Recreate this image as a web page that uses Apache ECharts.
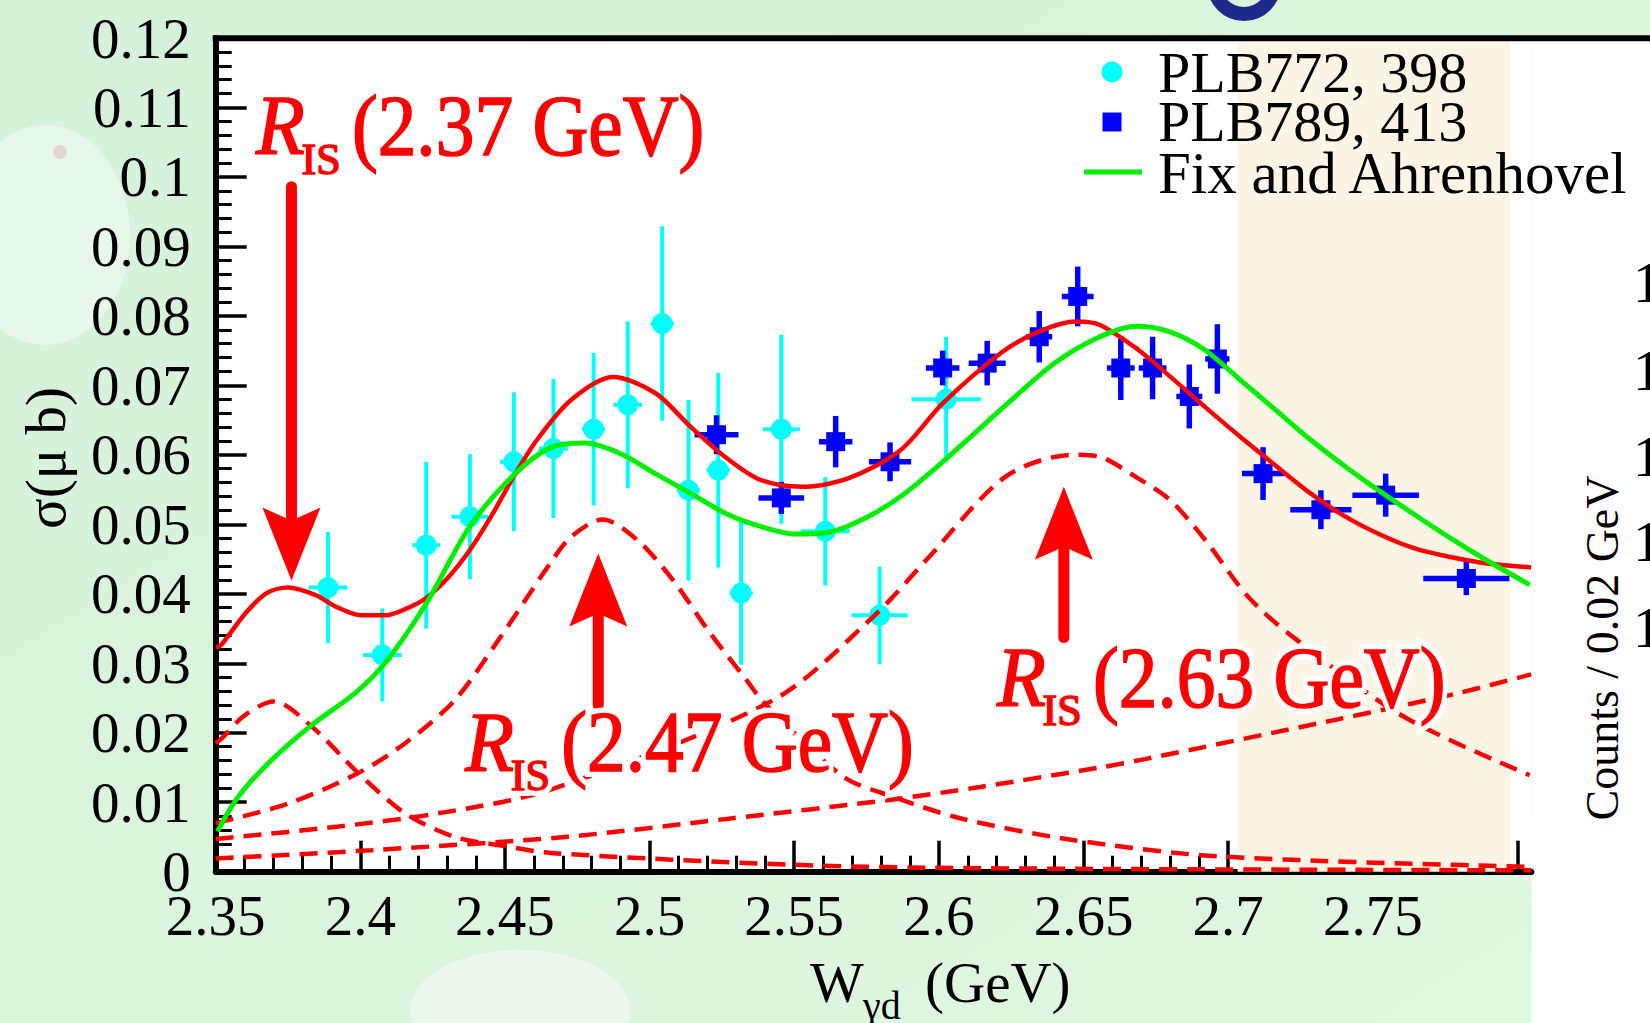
<!DOCTYPE html>
<html>
<head>
<meta charset="utf-8">
<title>W_γd cross section</title>
<script src="https://cdn.jsdelivr.net/npm/echarts@6/dist/echarts.min.js"></script>
<style>
  html, body { margin: 0; padding: 0; background: #d9f3dd; }
  #chart { width: 1650px; height: 1023px; }
</style>
</head>
<body>
<div id="chart"></div>
<script>
// ---- PLB772, 398 : W (GeV), sigma (ub), vertical error, bin half-width
const plb772W     = [2.3888, 2.4076, 2.4228, 2.4379, 2.4531, 2.4668, 2.4807, 2.4925, 2.5044, 2.5135, 2.5238, 2.5317, 2.5456, 2.5608, 2.5796, 2.6026];
const plb772Sigma = [0.0409, 0.0312, 0.0470, 0.0511, 0.0590, 0.0609, 0.0637, 0.0672, 0.0789, 0.0549, 0.0578, 0.0401, 0.0637, 0.0490, 0.0369, 0.0680];
const plb772Err   = [0.0080, 0.0067, 0.0120, 0.0090, 0.0100, 0.0100, 0.0110, 0.0120, 0.0140, 0.0130, 0.0140, 0.0103, 0.0136, 0.0078, 0.0070, 0.0090];
const plb772XErr  = [0.0067, 0.0067, 0.0048, 0.0064, 0.0048, 0.0050, 0.0040, 0.0050, 0.0040, 0.0040, 0.0040, 0.0040, 0.0064, 0.0085, 0.0097, 0.0120];

// ---- PLB789, 413
const plb789W     = [2.5232, 2.5456, 2.5644, 2.5832, 2.6014, 2.6168, 2.6348, 2.6481, 2.6630, 2.6740, 2.6867, 2.6964, 2.7122, 2.7322, 2.7546, 2.7825];
const plb789Sigma = [0.0629, 0.0538, 0.0619, 0.0590, 0.0725, 0.0732, 0.0770, 0.0828, 0.0725, 0.0725, 0.0684, 0.0738, 0.0573, 0.0521, 0.0542, 0.0422];
const plb789Err   = [0.0028, 0.0023, 0.0037, 0.0028, 0.0025, 0.0032, 0.0037, 0.0043, 0.0046, 0.0045, 0.0046, 0.0050, 0.0038, 0.0028, 0.0031, 0.0024];
const plb789XErr  = [0.0076, 0.0079, 0.0058, 0.0073, 0.0058, 0.0064, 0.0045, 0.0055, 0.0048, 0.0048, 0.0045, 0.0042, 0.0073, 0.0106, 0.0115, 0.0149];

// ---- total fit (solid red)
const fitTotal = [
  [2.3500, 0.0323], [2.3518, 0.0326], [2.3603, 0.0372], [2.3676, 0.0401], [2.3749, 0.0409], [2.3846, 0.0398],
  [2.3918, 0.0381], [2.4003, 0.0369], [2.4088, 0.0369], [2.4161, 0.0379], [2.4228, 0.0394], [2.4307, 0.0425],
  [2.4379, 0.0463], [2.4452, 0.0511], [2.4531, 0.0569], [2.4610, 0.0621], [2.4729, 0.0679], [2.4874, 0.0712],
  [2.5020, 0.0689], [2.5141, 0.0641], [2.5262, 0.0597], [2.5384, 0.0564], [2.5529, 0.0554], [2.5687, 0.0566],
  [2.5869, 0.0607], [2.6014, 0.0674], [2.6220, 0.0748], [2.6350, 0.0778], [2.6474, 0.0792], [2.6558, 0.0787],
  [2.6691, 0.0751], [2.6800, 0.0713], [2.6921, 0.0669], [2.7043, 0.0626], [2.7164, 0.0585], [2.7285, 0.0545],
  [2.7407, 0.0511], [2.7528, 0.0485], [2.7649, 0.0465], [2.7770, 0.0453], [2.7892, 0.0444], [2.8049, 0.0438]
];

// ---- Fix and Ahrenhovel (green)
const fixAhrenhovel = [
  [2.3506, 0.0058], [2.3578, 0.0108], [2.3694, 0.0161], [2.3832, 0.0211], [2.3982, 0.0257], [2.4085, 0.0300],
  [2.4228, 0.0386], [2.4379, 0.0497], [2.4531, 0.0571], [2.4656, 0.0610], [2.4777, 0.0617], [2.4899, 0.0602],
  [2.5020, 0.0573], [2.5141, 0.0545], [2.5262, 0.0516], [2.5384, 0.0497], [2.5505, 0.0486], [2.5626, 0.0489],
  [2.5747, 0.0509], [2.5869, 0.0540], [2.5990, 0.0581], [2.6111, 0.0626], [2.6233, 0.0672], [2.6404, 0.0733],
  [2.6558, 0.0770], [2.6684, 0.0785], [2.6800, 0.0777], [2.6921, 0.0751], [2.7043, 0.0708], [2.7164, 0.0665],
  [2.7285, 0.0622], [2.7407, 0.0583], [2.7528, 0.0547], [2.7649, 0.0513], [2.7770, 0.0480], [2.7892, 0.0449],
  [2.8044, 0.0413]
];

// ---- fit components (dashed red)
const compR237 = [
  [2.3500, 0.0185], [2.3521, 0.0192], [2.3600, 0.0225], [2.3700, 0.0245], [2.3832, 0.0209], [2.3993, 0.0142],
  [2.4155, 0.0084], [2.4327, 0.0050], [2.4500, 0.0037], [2.4657, 0.0027], [2.5497, 0.0010], [2.6143, 0.0005],
  [2.8050, 0.0002]
];
const compR247 = [
  [2.3500, 0.0070], [2.3751, 0.0098], [2.3993, 0.0142], [2.4155, 0.0185], [2.4327, 0.0247], [2.4477, 0.0333],
  [2.4657, 0.0444], [2.4729, 0.0482], [2.4838, 0.0507], [2.4959, 0.0477], [2.5081, 0.0420], [2.5202, 0.0348],
  [2.5335, 0.0276], [2.5399, 0.0242], [2.5670, 0.0137], [2.5842, 0.0108], [2.6074, 0.0077], [2.6458, 0.0046],
  [2.6970, 0.0022], [2.8044, 0.0007]
];
const compR263 = [
  [2.3500, 0.0047], [2.3924, 0.0065], [2.4270, 0.0084], [2.4657, 0.0118], [2.5428, 0.0247], [2.5774, 0.0367],
  [2.5958, 0.0449], [2.6233, 0.0569], [2.6466, 0.0600], [2.6558, 0.0597], [2.6679, 0.0569], [2.6800, 0.0535],
  [2.6921, 0.0478], [2.7072, 0.0395], [2.7225, 0.0338], [2.7609, 0.0223], [2.8044, 0.0139]
];
const compBroad = [
  [2.3500, 0.0019], [2.4039, 0.0031], [2.4708, 0.0050], [2.5267, 0.0076], [2.5842, 0.0104], [2.6143, 0.0122],
  [2.6558, 0.0150], [2.6713, 0.0162], [2.7353, 0.0217], [2.7625, 0.0241], [2.7807, 0.0258], [2.8049, 0.0284]
];

// ---- resonance markers: arrow W, arrow tail, arrow tip, label anchor (W, sigma)
const resMass     = ['2.37', '2.47', '2.63'];
const arrowW      = [2.3762, 2.4823, 2.6433];
const arrowTail   = [0.0986, 0.0240, 0.0337];
const arrowTip    = [0.0419, 0.0458, 0.0554];
const labelW      = [2.3639, 2.4363, 2.6202];
const labelSigma  = [0.1073, 0.0186, 0.0279];

// ---- axes
const xMin = 2.35, xMax = 2.805, xTickMax = 2.8, xStep = 0.05;
const yMin = 0, yMax = 0.12, yStep = 0.01;
const shadedBand = [2.7034, 2.7976];

const SERIF = 'Liberation Serif, Times New Roman, serif';
const RED = '#ff0000', CYAN = '#00ffff', BLUE = '#0000ff', GREEN = '#00ee00';

const chart = echarts.init(document.getElementById('chart'), null, { renderer: 'svg', width: 1650, height: 1023 });

function zip4(a, b, c, d) { return a.map((v, i) => [v, b[i], c[i], d[i]]); }

function errorBarItem(color, lw, marker, msize) {
  return function (params, api) {
    const w = api.value(0), s = api.value(1), ey = api.value(2), ex = api.value(3);
    const c = api.coord([w, s]);
    const t = api.coord([w, s + ey]), b = api.coord([w, s - ey]);
    const l = api.coord([w - ex, s]), r = api.coord([w + ex, s]);
    const st = { stroke: color, lineWidth: lw };
    const kids = [
      { type: 'line', shape: { x1: c[0], y1: t[1], x2: c[0], y2: b[1] }, style: st },
      { type: 'line', shape: { x1: l[0], y1: c[1], x2: r[0], y2: c[1] }, style: st }
    ];
    if (marker === 'circle') {
      kids.push({ type: 'circle', shape: { cx: c[0], cy: c[1], r: msize / 2 }, style: { fill: color } });
    } else {
      kids.push({ type: 'rect', shape: { x: c[0] - msize / 2, y: c[1] - msize / 2, width: msize, height: msize }, style: { fill: color } });
    }
    return { type: 'group', children: kids };
  };
}

function labelText(x, y, text, size, italic, sx, halo) {
  return {
    type: 'text', x: x, y: y, scaleX: sx, scaleY: 1,
    style: {
      text: text, fontFamily: SERIF, fontSize: size, fontStyle: italic ? 'italic' : 'normal',
      fill: halo ? '#ffffff' : RED,
      stroke: halo ? '#ffffff' : RED, lineWidth: halo ? 12 : 1.6,
      textAlign: 'left', verticalAlign: 'middle'
    }
  };
}

function resonanceItem(params, api) {
  const i = params.dataIndex;
  const w = api.value(0);
  const tail = api.coord([w, api.value(1)]);
  const tip = api.coord([w, api.value(2)]);
  const dir = tip[1] > tail[1] ? 1 : -1;
  const headL = 73, headW = 58, notch = 13;
  const baseY = tip[1] - dir * headL;
  const neckY = tip[1] - dir * (headL - notch);
  const a = api.coord([api.value(3), api.value(4)]);
  const parts = [
    { t: 'R', dx: 0, dy: 0, size: 84, it: true, sx: 0.95 },
    { t: 'IS', dx: 45.6, dy: 33, size: 44, it: false, sx: 1 },
    { t: '(' + resMass[i] + ' GeV)', dx: 96, dy: 0, size: 86, it: false, sx: 0.9 }
  ];
  const kids = [
    { type: 'line', shape: { x1: tip[0], y1: tail[1], x2: tip[0], y2: neckY }, style: { stroke: RED, lineWidth: 11, lineCap: 'round' } },
    { type: 'polygon', shape: { points: [[tip[0], tip[1]], [tip[0] - headW / 2, baseY], [tip[0], neckY], [tip[0] + headW / 2, baseY]] }, style: { fill: RED } }
  ];
  parts.forEach(p => kids.push(labelText(a[0] + p.dx, a[1] + p.dy, p.t, p.size, p.it, p.sx, true)));
  parts.forEach(p => kids.push(labelText(a[0] + p.dx, a[1] + p.dy, p.t, p.size, p.it, p.sx, false)));
  return { type: 'group', children: kids };
}

function dashed(name, data) {
  return {
    name: name, type: 'line', data: data, xAxisIndex: 0, yAxisIndex: 0,
    showSymbol: false, smooth: 0.3, clip: true, silent: true,
    lineStyle: { color: RED, width: 4.5, type: [18, 10] }, z: 3
  };
}

const fmt = v => String(parseFloat(Number(v).toFixed(2)));

const option = {
  animation: false,
  backgroundColor: {
    type: 'linear', x: 0, y: 0, x2: 1, y2: 1,
    colorStops: [{ offset: 0, color: '#d5f1d9' }, { offset: 1, color: '#e0f7e2' }]
  },
  grid: [
    { left: 215.7, right: 118.6, top: 38, bottom: 151.3, show: true, backgroundColor: '#ffffff', borderWidth: 0, containLabel: false, outerBoundsMode: 'none' },
    { left: 215.7, right: 132.6, top: 38, bottom: 151.3, show: false, containLabel: false, outerBoundsMode: 'none' }
  ],
  xAxis: [
    {
      gridIndex: 0, type: 'value', min: xMin, max: xMax,
      axisLine: { show: true, onZero: false, lineStyle: { color: '#000', width: 6 } },
      axisTick: { show: false }, minorTick: { show: false }, axisLabel: { show: false }, splitLine: { show: false }
    },
    {
      gridIndex: 1, type: 'value', min: xMin, max: xTickMax, interval: xStep,
      axisLine: { show: false },
      axisTick: { show: true, inside: true, length: 31, lineStyle: { color: '#000', width: 3.5 } },
      minorTick: { show: true, splitNumber: 5, length: 16, lineStyle: { color: '#000', width: 3 } },
      splitLine: { show: false }, minorSplitLine: { show: false },
      axisLabel: {
        margin: 15, fontFamily: SERIF, fontSize: 57, color: '#000',
        formatter: v => (v > xTickMax - 0.01 ? '' : fmt(v))
      }
    }
  ],
  yAxis: [
    {
      gridIndex: 0, type: 'value', min: yMin, max: yMax, interval: yStep,
      axisLine: { show: true, onZero: false, lineStyle: { color: '#000', width: 6 } },
      axisTick: { show: true, inside: true, length: 31, lineStyle: { color: '#000', width: 3.5 } },
      minorTick: { show: true, splitNumber: 5, length: 16, lineStyle: { color: '#000', width: 3 } },
      splitLine: { show: false }, minorSplitLine: { show: false },
      axisLabel: { margin: 25, fontFamily: SERIF, fontSize: 57, color: '#000', formatter: fmt }
    },
    { gridIndex: 1, type: 'value', min: yMin, max: yMax, show: false }
  ],
  series: [
    {
      name: 'band', type: 'line', data: [], xAxisIndex: 0, yAxisIndex: 0, silent: true,
      markArea: {
        silent: true, itemStyle: { color: '#fcf5e6' },
        data: [[{ xAxis: shadedBand[0] }, { xAxis: shadedBand[1] }]]
      }, z: 1
    },
    {
      name: 'PLB772, 398', type: 'custom', xAxisIndex: 0, yAxisIndex: 0, clip: true, silent: true, z: 2,
      data: zip4(plb772W, plb772Sigma, plb772Err, plb772XErr), encode: { x: 0, y: 1 },
      renderItem: errorBarItem(CYAN, 4, 'circle', 21)
    },
    {
      name: 'PLB789, 413', type: 'custom', xAxisIndex: 0, yAxisIndex: 0, clip: true, silent: true, z: 2,
      data: zip4(plb789W, plb789Sigma, plb789Err, plb789XErr), encode: { x: 0, y: 1 },
      renderItem: errorBarItem(BLUE, 5.5, 'rect', 19)
    },
    dashed('R_IS(2.37)', compR237),
    dashed('R_IS(2.47)', compR247),
    dashed('R_IS(2.63)', compR263),
    dashed('broad', compBroad),
    {
      name: 'fit', type: 'line', data: fitTotal, xAxisIndex: 0, yAxisIndex: 0, showSymbol: false,
      smooth: 0.3, clip: true, silent: true, lineStyle: { color: RED, width: 4.5 }, z: 4
    },
    {
      name: 'Fix and Ahrenhovel', type: 'line', data: fixAhrenhovel, xAxisIndex: 0, yAxisIndex: 0, showSymbol: false,
      smooth: 0.3, clip: true, silent: true, lineStyle: { color: GREEN, width: 5 }, z: 5
    },
    {
      name: 'resonances', type: 'custom', xAxisIndex: 0, yAxisIndex: 0, clip: false, silent: true, z: 6,
      data: arrowW.map((w, i) => [w, arrowTail[i], arrowTip[i], labelW[i], labelSigma[i]]),
      encode: { x: 0, y: 1 },
      renderItem: resonanceItem
    }
  ],
  graphic: [
    // soft background shapes
    { type: 'ellipse', shape: { cx: 45, cy: 235, rx: 85, ry: 110 }, style: { fill: 'rgba(255,255,255,0.4)' }, z: -10, silent: true },
    { type: 'circle', shape: { cx: 60, cy: 152, r: 7 }, style: { fill: 'rgba(230,180,180,0.5)' }, z: -9, silent: true },
    { type: 'ellipse', shape: { cx: 520, cy: 1010, rx: 110, ry: 60 }, style: { fill: 'rgba(255,255,255,0.4)' }, z: -10, silent: true },
    { type: 'arc', shape: { cx: 1244, cy: -16, r: 30, startAngle: 0, endAngle: Math.PI }, style: { stroke: '#1d2a8a', lineWidth: 14, fill: null }, z: -9, silent: true },
    // neighbouring panel
    { type: 'rect', shape: { x: 1531.4, y: 38, width: 130, height: 990 }, style: { fill: '#ffffff' }, z: -5, silent: true },
    { type: 'text', x: 1602, y: 648, rotation: Math.PI / 2, style: { text: 'Counts / 0.02 GeV', fontFamily: SERIF, fontSize: 46, fill: '#000', textAlign: 'center', verticalAlign: 'middle' }, z: 10 },
    { type: 'text', x: 1633, y: 282, style: { text: '1', fontFamily: SERIF, fontSize: 57, fill: '#000', textAlign: 'left', verticalAlign: 'middle' }, z: 10 },
    { type: 'text', x: 1633, y: 370, style: { text: '1', fontFamily: SERIF, fontSize: 57, fill: '#000', textAlign: 'left', verticalAlign: 'middle' }, z: 10 },
    { type: 'text', x: 1633, y: 456, style: { text: '1', fontFamily: SERIF, fontSize: 57, fill: '#000', textAlign: 'left', verticalAlign: 'middle' }, z: 10 },
    { type: 'text', x: 1633, y: 541, style: { text: '1', fontFamily: SERIF, fontSize: 57, fill: '#000', textAlign: 'left', verticalAlign: 'middle' }, z: 10 },
    { type: 'text', x: 1633, y: 627, style: { text: '1', fontFamily: SERIF, fontSize: 57, fill: '#000', textAlign: 'left', verticalAlign: 'middle' }, z: 10 },
    // frame top edge
    { type: 'line', shape: { x1: 212.7, y1: 38.3, x2: 1650, y2: 38.3 }, style: { stroke: '#000', lineWidth: 6 }, z: 100 },
    // axis titles
    { type: 'text', x: 45, y: 458, rotation: Math.PI / 2, style: { text: 'σ(μ b)', fontFamily: SERIF, fontSize: 57, fill: '#000', textAlign: 'center', verticalAlign: 'middle' }, z: 10 },
    { type: 'text', x: 810, y: 982, style: { text: 'W', fontFamily: SERIF, fontSize: 57, fill: '#000', textAlign: 'left', verticalAlign: 'middle' }, z: 10 },
    { type: 'text', x: 863, y: 1005, style: { text: 'γd', fontFamily: SERIF, fontSize: 40, fill: '#000', textAlign: 'left', verticalAlign: 'middle' }, z: 10 },
    { type: 'text', x: 925, y: 982, style: { text: '(GeV)', fontFamily: SERIF, fontSize: 57, fill: '#000', textAlign: 'left', verticalAlign: 'middle' }, z: 10 },
    // legend
    { type: 'circle', shape: { cx: 1112, cy: 72, r: 10.5 }, style: { fill: CYAN }, z: 20 },
    { type: 'rect', shape: { x: 1102.5, y: 112.5, width: 19, height: 19 }, style: { fill: BLUE }, z: 20 },
    { type: 'line', shape: { x1: 1084, y1: 172, x2: 1142, y2: 172 }, style: { stroke: GREEN, lineWidth: 5 }, z: 20 },
    { type: 'text', x: 1158, y: 72.5, style: { text: 'PLB772, 398', fontFamily: SERIF, fontSize: 58, fill: '#000', textAlign: 'left', verticalAlign: 'middle' }, z: 20 },
    { type: 'text', x: 1158, y: 121.7, style: { text: 'PLB789, 413', fontFamily: SERIF, fontSize: 58, fill: '#000', textAlign: 'left', verticalAlign: 'middle' }, z: 20 },
    { type: 'text', x: 1158, y: 173, style: { text: 'Fix and Ahrenhovel', fontFamily: SERIF, fontSize: 59, fill: '#000', textAlign: 'left', verticalAlign: 'middle' }, z: 20 }
  ]
};

chart.setOption(option);
</script>
</body>
</html>
